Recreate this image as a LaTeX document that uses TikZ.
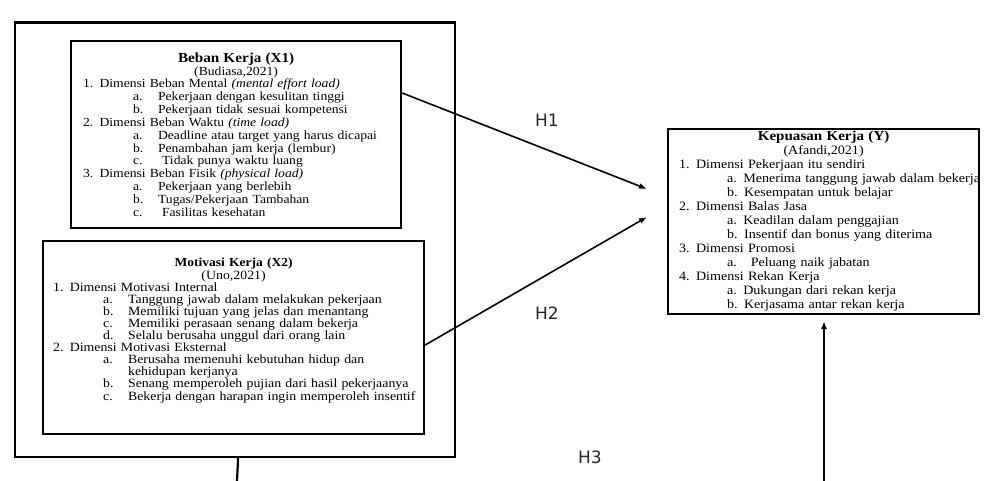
\documentclass[tikz,border=0pt]{standalone}
\usepackage{fontspec}
\setmainfont{Liberation Serif}[FakeStretch=1.1]
\newfontfamily\hfont{DejaVu Sans}
\usetikzlibrary{arrows.meta}

\newcommand{\judul}[2]{\centerline{\fontsize{#2}{#2}\selectfont\bfseries #1}}
\newcommand{\sumber}[1]{\centerline{#1}}
\newcommand{\dimensi}[1]{\par\noindent\mbox{#1}}
\newcommand{\butir}[2]{\par\noindent\hspace*{50pt}\makebox[25pt][l]{#1}\mbox{#2}}
\newcommand{\butirY}[1]{\par\noindent\hspace*{48pt}\mbox{#1}}

\begin{document}
\begin{tikzpicture}[
  x=1pt, y=-1pt,
  kotak/.style={draw, line width=2.2pt, anchor=north west, inner ysep=0pt},
  panah/.style={draw, line width=1.6pt, -{Latex[length=8pt,width=6pt]}},
  garis/.style={draw, line width=2.2pt},
  hlabel/.style={font=\hfont\fontsize{17}{17}\selectfont, text=black!85}
]
\useasboundingbox (0,0) rectangle (984,481);

% Kerangka
\node[kotak, minimum width=440pt, minimum height=434pt] (luar) at (14,21.5) {};

\node[kotak, inner xsep=12pt, text width=306pt, minimum height=187pt,
  font=\fontsize{12.4}{12.85}\selectfont] (x1) at (70,40) {%
  \judul{Beban Kerja (X1)}{13.8}
  \sumber{(Budiasa,2021)}
  \dimensi{1. Dimensi Beban Mental \textit{(mental effort load)}}
  \butir{a.}{Pekerjaan dengan kesulitan tinggi}
  \butir{b.}{Pekerjaan tidak sesuai kompetensi}
  \dimensi{2. Dimensi Beban Waktu \textit{(time load)}}
  \butir{a.}{Deadline atau target yang harus dicapai}
  \butir{b.}{Penambahan jam kerja (lembur)}
  \butir{c.}{\hspace*{4pt}Tidak punya waktu luang}
  \dimensi{3. Dimensi Beban Fisik \textit{(physical load)}}
  \butir{a.}{Pekerjaan yang berlebih}
  \butir{b.}{Tugas/Pekerjaan Tambahan}
  \butir{c.}{\hspace*{4pt}Fasilitas kesehatan}};

\node[kotak, inner xsep=10pt, text width=361pt, minimum height=193pt,
  font=\fontsize{12.6}{12.1}\selectfont] (x2) at (42,240) {%
  \judul{Motivasi Kerja (X2)}{12.3}
  \sumber{(Uno,2021)}
  \dimensi{1. Dimensi Motivasi Internal}
  \butir{a.}{Tanggung jawab dalam melakukan pekerjaan}
  \butir{b.}{Memiliki tujuan yang jelas dan menantang}
  \butir{c.}{Memiliki perasaan senang dalam bekerja}
  \butir{d.}{Selalu berusaha unggul dari orang lain}
  \dimensi{2. Dimensi Motivasi Eksternal}
  \butir{a.}{Berusaha memenuhi kebutuhan hidup dan}
  \butir{}{kehidupan kerjanya}
  \butir{b.}{Senang memperoleh pujian dari hasil pekerjaanya}
  \butir{c.}{Bekerja dengan harapan ingin memperoleh insentif}
  \par\nointerlineskip\vskip14pt\hbox{}};

\node[kotak, inner xsep=11pt, text width=289pt, minimum height=185pt,
  font=\fontsize{12.8}{14}\selectfont] (kep) at (667,128) {%
  \judul{Kepuasan Kerja (Y)}{13.7}
  \sumber{(Afandi,2021)}
  \dimensi{1. Dimensi Pekerjaan itu sendiri}
  \butirY{a. Menerima tanggung jawab dalam bekerja}
  \butirY{b. Kesempatan untuk belajar}
  \dimensi{2. Dimensi Balas Jasa}
  \butirY{a. Keadilan dalam penggajian}
  \butirY{b. Insentif dan bonus yang diterima}
  \dimensi{3. Dimensi Promosi}
  \butirY{a.\hspace*{14pt}Peluang naik jabatan}
  \dimensi{4. Dimensi Rekan Kerja}
  \butirY{a. Dukungan dari rekan kerja}
  \butirY{b. Kerjasama antar rekan kerja}};

\coordinate (ujung1) at (647,189);
\coordinate (ujung2) at (647,217);
\coordinate (ujung3) at (824,321);
\coordinate (bawah1) at (237,481);
\coordinate (bawah2) at (824,481);

\draw[panah] ([yshift=-53pt]x1.north east) -- (ujung1);
\draw[panah] ([yshift=-105pt]x2.north east) -- (ujung2);
\draw[panah] (bawah2) -- (ujung3);
\draw[garis] ([xshift=3pt]luar.south) -- (bawah1);

\node[hlabel] (h1) at (547,120) {H1};
\node[hlabel] (h2) at (547,313) {H2};
\node[hlabel] (h3) at (590,457) {H3};

\end{tikzpicture}
\end{document}
